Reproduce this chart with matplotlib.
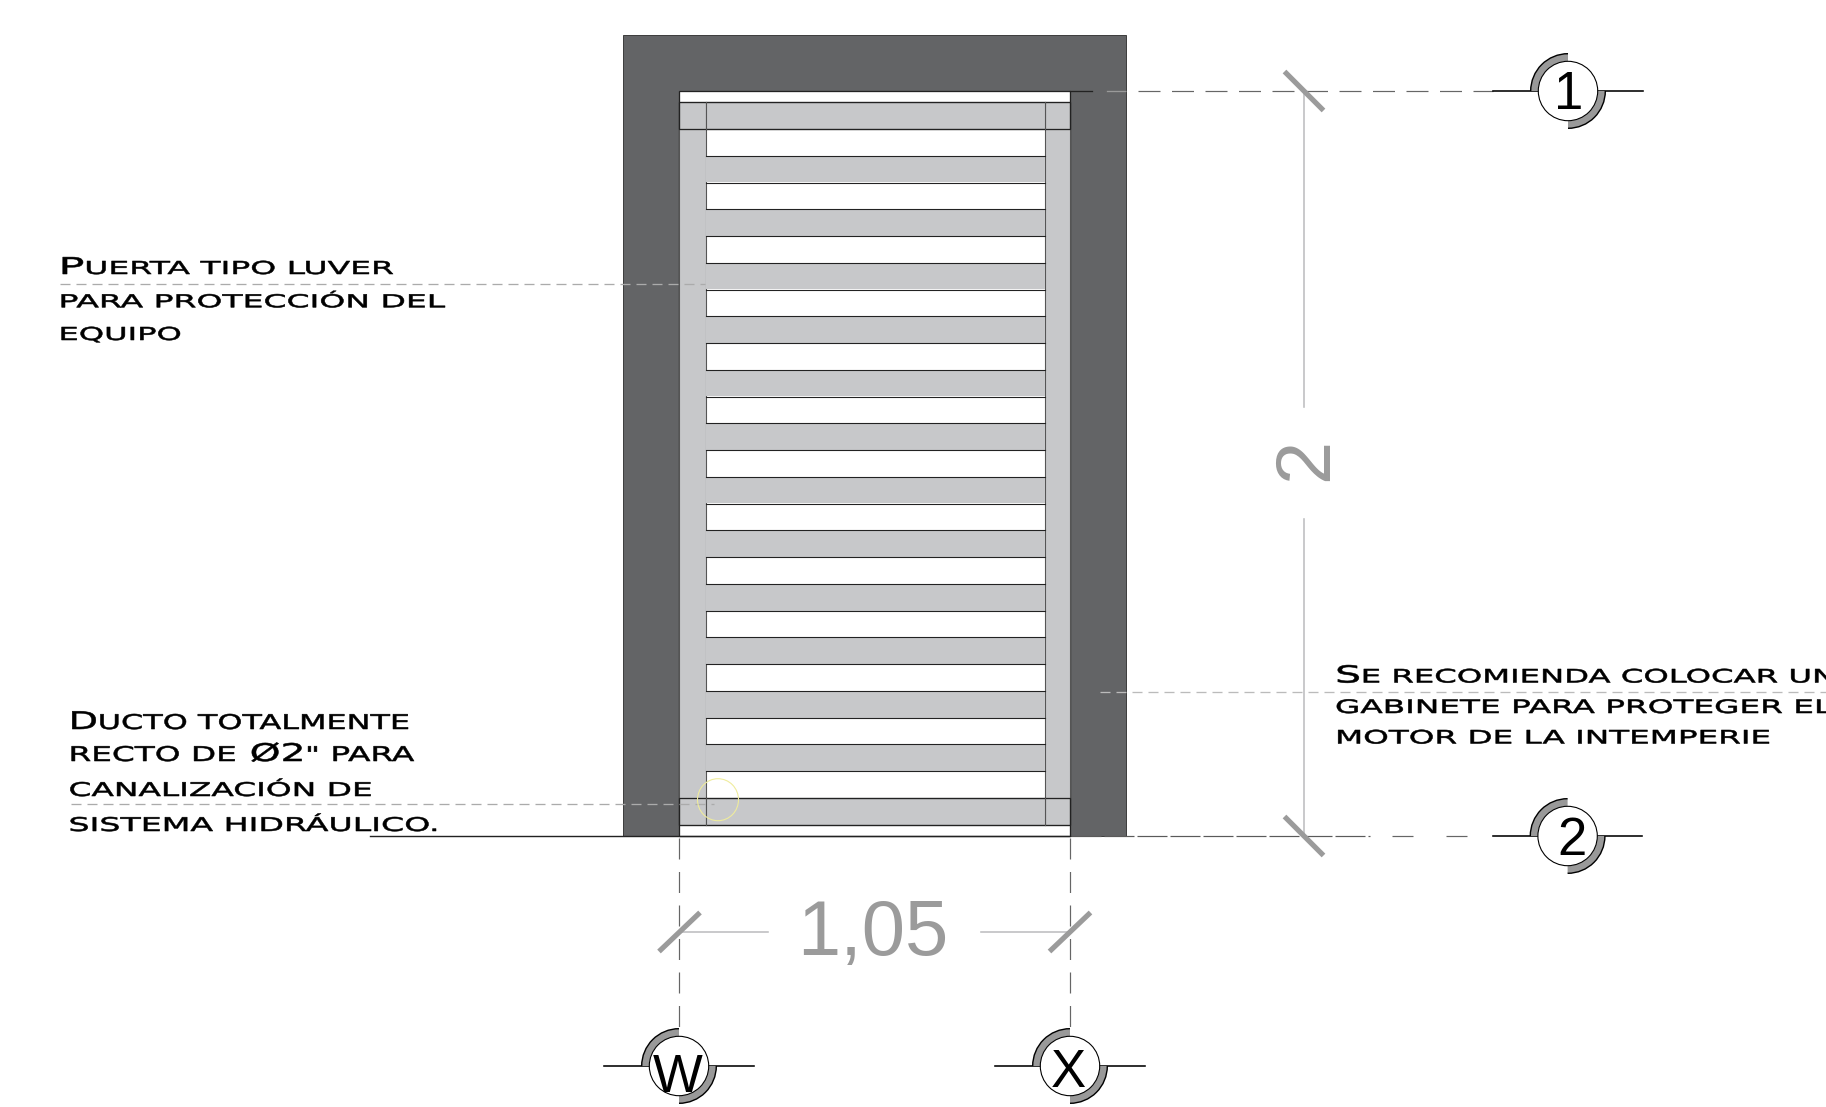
import numpy as np
import matplotlib
matplotlib.use("Agg")
import matplotlib.pyplot as plt
from matplotlib.patches import Rectangle, Circle, Wedge, Arc, Ellipse
from matplotlib.patheffects import AbstractPathEffect
from matplotlib.path import Path
from matplotlib.font_manager import FontProperties
from matplotlib.textpath import text_to_path

# ---- drawing data (in image pixels) ----
W, H = 1826, 1107
wall_x = [622.8, 1125.5]
wall_top = 35
floor_y = 836
opening_x = [679, 1070]
opening_top = 91
stile_inner_x = [705.7, 1045]
louver_tops = [102.3, 155.8, 209.3, 262.8, 316.3, 369.8, 423.3,
               476.8, 530.3, 583.8, 637.3, 690.8, 744.3, 797.8]
louver_height = 26.7

label_puerta = ["PUERTA TIPO LUVER", "PARA PROTECCIÓN DEL", "EQUIPO"]
label_ducto = ["DUCTO TOTALMENTE", 'RECTO DE Ø2" PARA', "CANALIZACIÓN DE", "SISTEMA HIDRÁULICO."]
label_motor = ["SE RECOMIENDA COLOCAR UN", "GABINETE PARA PROTEGER EL", "MOTOR DE LA INTEMPERIE"]
dim_width = "1,05"
dim_height = "2"
grid_labels = ["1", "2", "W", "X"]

WALL = "#636466"
LOUVER = "#C7C8CA"
DIM = "#9B9B9B"
DIMLINE = "#BDBEC0"
LEADER = "#ABABAB"
px = 0.72  # one image pixel in points

plt.rcParams["lines.scale_dashes"] = False
plt.rcParams["font.family"] = ["Liberation Sans", "DejaVu Sans"]

fig = plt.figure(figsize=(W / 100, H / 100), dpi=100, facecolor="white")
ax = fig.add_axes([0, 0, 1, 1])
ax.set_xlim(0, W)
ax.set_ylim(H, 0)
ax.axis("off")


class WideText(AbstractPathEffect):
    """Widen the glyphs of a text line, thicken them, and enlarge one span of it."""

    def __init__(self, sx, span=(0.0, 0.0), k=1.0, stroke=0.0):
        super().__init__()
        self.sx, self.span, self.k, self.stroke = sx, span, k, stroke

    def draw_path(self, renderer, gc, tpath, affine, rgbFace=None):
        v = np.array(tpath.vertices, dtype=float)
        a, b = self.span
        if self.k != 1.0:
            x = v[:, 0].copy()
            inside = (x >= a) & (x < b)
            v[inside, 1] *= self.k
            v[inside, 0] = a + (x[inside] - a) * self.k
            v[x >= b, 0] += (b - a) * (self.k - 1.0)
        v[:, 0] *= self.sx
        gc0 = renderer.new_gc()
        gc0.copy_properties(gc)
        gc0.set_linewidth(self.stroke)
        gc0.set_foreground(rgbFace)
        renderer.draw_path(gc0, Path(v, tpath.codes), affine, rgbFace)
        gc0.restore()


def wide_label(s, x, baseline, right, cap_px, big=None, k=1.0):
    size = cap_px / 0.729 * 0.72
    fp = FontProperties(family="DejaVu Sans", size=size)

    def xmax(t):
        return np.array(text_to_path.get_text_path(fp, t)[0])[:, 0].max()

    verts = np.array(text_to_path.get_text_path(fp, s)[0])
    a, b = 0.0, 0.0
    if big:
        i = s.index(big)
        a = xmax(s[:i]) + 1.0 if i else -1.0
        b = xmax(s[:i + len(big)]) + 1.0
    x_min = verts[:, 0].min() * (k if big and a < 0 else 1.0)
    x_max = verts[:, 0].max() + (b - a) * (k - 1.0)
    unit = size / 100 / 0.72
    sx = (right - x) / ((x_max - x_min) * unit)
    ax.text(x - x_min * unit * sx, baseline, s, family="DejaVu Sans", fontsize=size, color="black",
            ha="left", va="baseline", zorder=8,
            path_effects=[WideText(sx, (a, b), k, 0.55 * px)])


# ---- wall ----
ax.add_patch(Rectangle((wall_x[0], wall_top), wall_x[1] - wall_x[0], floor_y - wall_top,
                       fc=WALL, ec="#333333", lw=0.9 * px, zorder=1))
ax.add_patch(Rectangle((opening_x[0], opening_top), opening_x[1] - opening_x[0], floor_y - opening_top,
                       fc="white", ec="#222222", lw=1.3 * px, zorder=2))

# ---- louvre door ----
door_bottom = louver_tops[-1] + louver_height
for xa, xb in [(opening_x[0], stile_inner_x[0]), (stile_inner_x[1], opening_x[1])]:
    ax.add_patch(Rectangle((xa, louver_tops[0]), xb - xa, door_bottom - louver_tops[0],
                           fc=LOUVER, ec="#555555", lw=1.1 * px, zorder=3))
for i, top in enumerate(louver_tops):
    ax.add_patch(Rectangle((stile_inner_x[0], top), stile_inner_x[1] - stile_inner_x[0], louver_height,
                           fc=LOUVER, ec="none", zorder=4))
    ax.plot(stile_inner_x, [top, top], color="#222222", lw=1.1 * px, zorder=5)
    ax.plot(stile_inner_x, [top + louver_height] * 2, color="#222222", lw=1.1 * px, zorder=5)
for top in (louver_tops[0], louver_tops[-1]):
    ax.add_patch(Rectangle((opening_x[0], top), opening_x[1] - opening_x[0], louver_height,
                           fc="none", ec="#222222", lw=1.3 * px, zorder=5))
    for x in stile_inner_x:
        ax.plot([x, x], [top, top + louver_height], color="#555555", lw=1.1 * px, zorder=5)

# floor line
ax.plot([370, opening_x[1]], [floor_y, floor_y], color="#222222", lw=1.4 * px, zorder=6)

# ---- axis lines ----
def dashed(xs, ys, on, off, color="#666666", lw=1.2, offset=0.0, z=6):
    ax.plot(xs, ys, color=color, lw=lw * px, zorder=z,
            linestyle=(offset * px, (on * px, off * px)), dash_capstyle="butt")


dashed([1071, 1493], [91, 91], 22, 11.5)
ax.plot([1070, 1092], [91, 91], color="#222222", lw=1.3 * px, zorder=6)
ax.plot([1106.6, 1125], [91, 91], color="#9A9A9A", lw=1.3 * px, zorder=6)
dashed([1071, 1370], [floor_y, floor_y], 30, 3, color="#5a5a5a")
dashed([1392, 1493], [floor_y, floor_y], 21, 33, color="#666666")
for x in opening_x:
    dashed([x, x], [838, 1031], 21, 12.5)

# ---- dimensions ----
ax.plot([1304, 1304], [91, 407], color=DIMLINE, lw=1.6 * px, zorder=3)
ax.plot([1304, 1304], [519, floor_y], color=DIMLINE, lw=1.6 * px, zorder=3)
ax.plot([680, 767.5], [932, 932], color=DIMLINE, lw=1.6 * px, zorder=3)
ax.plot([981, 1070], [932, 932], color=DIMLINE, lw=1.6 * px, zorder=3)
for cx, cy, dx, dy in [(1304, 91, 19.5, 19.5), (1304, 836, 19.5, 19.5),
                       (679.5, 932, 20.5, -19.5), (1070, 932, 20.5, -19.5)]:
    ax.plot([cx - dx, cx + dx], [cy - dy, cy + dy], color=DIM, lw=5.2 * px,
            solid_capstyle="butt", zorder=7)
ax.text(873, 955, dim_width, fontsize=56, color=DIM, ha="center", va="baseline", zorder=7)
ax.text(1327, 459, dim_height, fontsize=56, color=DIM, rotation=90, ha="center",
        va="baseline", rotation_mode="anchor", zorder=7)

# ---- grid bubbles ----
bubbles = [(1568, 91, 1493, 1642.7), (1567.6, 836, 1493, 1642),
           (679, 1066, 604, 754), (1070, 1066, 995, 1145)]
glyphs = [(1568.5, 109.3), (1572, 855), (677.5, 1091.7), (1068.5, 1086.7)]
R, RO = 29.7, 37.3
for (cx, cy, xl, xr), label, (gx, gy) in zip(bubbles, grid_labels, glyphs):
    ax.plot([xl, cx - R], [cy, cy], color="black", lw=1.6 * px, zorder=7)
    ax.plot([cx + R, xr], [cy, cy], color="black", lw=1.6 * px, zorder=7)
    for t1 in (180, 0):
        ax.add_patch(Wedge((cx, cy), RO, t1, t1 + 90, width=RO - R, fc="#999999", ec="none", zorder=8))
        ax.add_patch(Arc((cx, cy), 2 * RO, 2 * RO, theta1=t1, theta2=t1 + 90, ec="black", lw=1.4 * px, zorder=8))
    ax.add_patch(Circle((cx, cy), R, fc="white", ec="black", lw=1.1 * px, zorder=9))
    ax.text(gx, gy, label, fontsize=38, color="black", ha="center", va="baseline", zorder=10)

# ---- leaders ----
dashed([60, 705], [284, 284], 10, 6, color=LEADER, lw=1.3, z=7)
dashed([71, 714], [804, 804], 10, 6, color=LEADER, lw=1.3, z=7)
dashed([1100, W], [691.7, 691.7], 10, 6, color="#BBBBBB", lw=1.3, z=7)
ax.add_patch(Ellipse((718, 799.7), 41, 42, fc="none", ec="#EFEC9C", lw=1.1 * px, zorder=7))

# ---- notes ----
for s, base, right, cap, big, k in zip(label_puerta, [274, 307.3, 340], [393, 445, 180],
                                       [13, 13, 13], ["P", None, None], [1.3, 1, 1]):
    wide_label(s, 58.5, base, right, cap, big, k)
for s, base, right, cap, big, k in zip(label_ducto, [729, 761, 796, 831], [408, 414, 370.6, 436],
                                       [14.8, 14.8, 13.8, 13.8], ["D", "Ø2", None, None], [1.2, 1.2, 1, 1]):
    wide_label(s, 68.5, base, right, cap, big, k)
for s, base, right, cap, big, k in zip(label_motor, [682.5, 713, 743.5], [1833, 1832, 1769],
                                       [13.5, 13.5, 13.5], ["S", None, None], [1.27, 1, 1]):
    wide_label(s, 1335, base, right, cap, big, k)

fig.savefig("out.png", dpi=100, facecolor="white")
